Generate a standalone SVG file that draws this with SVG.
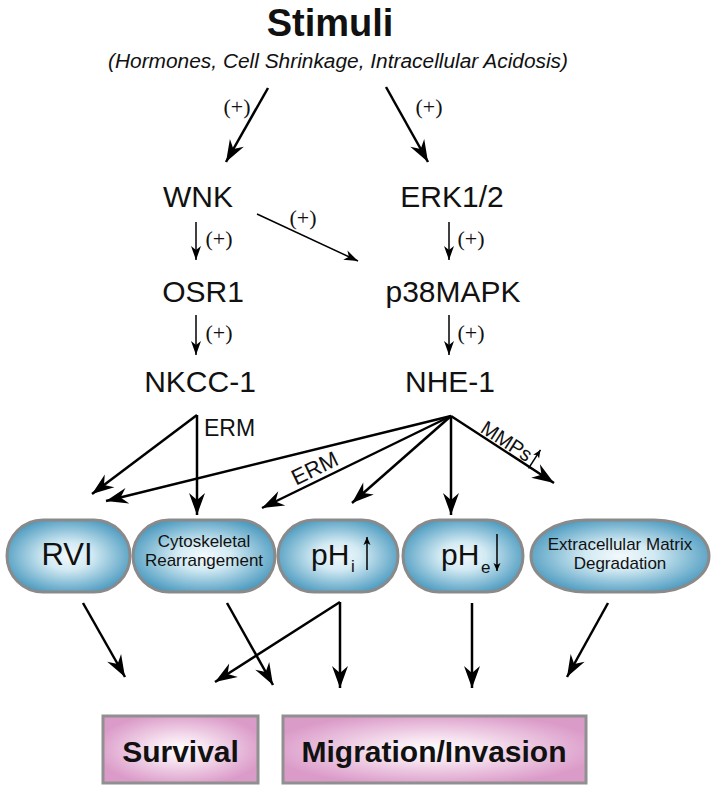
<svg xmlns="http://www.w3.org/2000/svg" width="714" height="792" viewBox="0 0 714 792">
<defs>
<radialGradient id="gBlue" cx="50%" cy="50%" r="55%">
<stop offset="0" stop-color="#f3f9fc"/>
<stop offset="0.35" stop-color="#d2eaf3"/>
<stop offset="1" stop-color="#4d9bc0"/>
</radialGradient>
<radialGradient id="gPink" cx="50%" cy="50%" r="55%">
<stop offset="0" stop-color="#ffffff"/>
<stop offset="0.3" stop-color="#f7e5f1"/>
<stop offset="1" stop-color="#db9bc9"/>
</radialGradient>
<marker id="ah" viewBox="-24 -10 26 20" refX="0" refY="0" markerWidth="26" markerHeight="20" markerUnits="userSpaceOnUse" orient="auto">
<path d="M0,0 L-22,-8 L-15,0 L-22,8 Z" fill="#000"/>
</marker>
<marker id="as" viewBox="-16 -8 18 16" refX="0" refY="0" markerWidth="18" markerHeight="16" markerUnits="userSpaceOnUse" orient="auto">
<path d="M0,0 L-14,-5 L-10,0 L-14,5 Z" fill="#000"/>
</marker>
<marker id="at" viewBox="-9 -5 10 10" refX="0" refY="0" markerWidth="10" markerHeight="10" markerUnits="userSpaceOnUse" orient="auto">
<path d="M0,0 L-8,-3.5 L-6,0 L-8,3.5 Z" fill="#000"/>
</marker>
</defs>
<style>
.t{font-family:"Liberation Sans",Arial,sans-serif;fill:#111}
.c{text-anchor:middle}
.plus{font-family:"Liberation Serif","Times New Roman",serif;font-size:22px;fill:#111;text-anchor:middle}
.lab{font-size:30px}
.ln{stroke:#000;fill:none;stroke-width:2.5}
.lnt{stroke:#000;fill:none;stroke-width:1.5}
.pill{fill:url(#gBlue);stroke:#8a8a8a;stroke-width:3}
.box{fill:url(#gPink);stroke:#909090;stroke-width:3}
</style>
<rect width="714" height="792" fill="#fff"/>

<g id="stimuli">
<text class="t c" x="330" y="36" font-size="38" font-weight="bold">Stimuli</text>
<text class="t" x="108" y="68" font-size="20" font-style="italic" textLength="460" lengthAdjust="spacingAndGlyphs">(Hormones, Cell Shrinkage, Intracellular Acidosis)</text>
</g>
<g id="wnk"><text class="t c lab" x="198" y="207">WNK</text></g>
<g id="erk"><text class="t c lab" x="452" y="207">ERK1/2</text></g>
<g id="osr1"><text class="t c lab" x="203" y="302">OSR1</text></g>
<g id="p38"><text class="t c lab" x="453" y="302">p38MAPK</text></g>
<g id="nkcc1"><text class="t c lab" x="200" y="392">NKCC-1</text></g>
<g id="nhe1"><text class="t c lab" x="450" y="392">NHE-1</text></g>

<g id="rvi">
<rect class="pill" x="7" y="520" width="123" height="72" rx="36" ry="36"/>
<text class="t c" x="67" y="565" font-size="31">RVI</text>
</g>
<g id="cyto">
<rect class="pill" x="133" y="520" width="142" height="72" rx="36" ry="36"/>
<text class="t c" x="204" y="547" font-size="17">Cytoskeletal</text>
<text class="t c" x="204" y="566" font-size="17">Rearrangement</text>
</g>
<g id="phi">
<rect class="pill" x="278" y="520" width="120" height="72" rx="36" ry="36"/>
<text class="t" x="311" y="565" font-size="30">pH</text>
<text class="t" x="351" y="572" font-size="17">i</text>
<line class="lnt" x1="367" y1="570" x2="367" y2="537" marker-end="url(#at)"/>
</g>
<g id="phe">
<rect class="pill" x="403" y="520" width="120" height="72" rx="36" ry="36"/>
<text class="t" x="441" y="565" font-size="30">pH</text>
<text class="t" x="481" y="573" font-size="17">e</text>
<line class="lnt" x1="497" y1="534" x2="497" y2="571" marker-end="url(#at)"/>
</g>
<g id="ecm">
<rect class="pill" x="531" y="520" width="178" height="72" rx="55" ry="36"/>
<text class="t c" x="620" y="550" font-size="17">Extracellular Matrix</text>
<text class="t c" x="620" y="569" font-size="17">Degradation</text>
</g>

<g id="survival">
<rect class="box" x="103" y="716" width="155" height="67"/>
<text class="t c" x="180.5" y="762" font-size="30" font-weight="bold">Survival</text>
</g>
<g id="migration">
<rect class="box" x="283" y="716" width="303" height="67"/>
<text class="t c" x="434" y="762" font-size="30" font-weight="bold">Migration/Invasion</text>
</g>

<g id="connectors">
<line class="ln" x1="268" y1="88" x2="226" y2="162" marker-end="url(#ah)"/>
<line class="ln" x1="386" y1="87" x2="428" y2="162" marker-end="url(#ah)"/>
<text class="plus" x="237" y="114">(+)</text>
<text class="plus" x="429" y="114">(+)</text>

<line class="lnt" x1="196" y1="222" x2="196" y2="260" marker-end="url(#as)"/>
<line class="lnt" x1="449" y1="222" x2="449" y2="260" marker-end="url(#as)"/>
<line class="lnt" x1="257" y1="214" x2="358" y2="261" marker-end="url(#as)"/>
<text class="plus" x="219" y="246">(+)</text>
<text class="plus" x="471" y="246">(+)</text>
<text class="plus" x="303" y="225">(+)</text>
<line class="lnt" x1="196" y1="315" x2="196" y2="355" marker-end="url(#as)"/>
<line class="lnt" x1="449" y1="315" x2="449" y2="355" marker-end="url(#as)"/>
<text class="plus" x="219" y="340">(+)</text>
<text class="plus" x="471" y="340">(+)</text>

<line class="ln" x1="197" y1="415" x2="92" y2="494" marker-end="url(#ah)"/>
<line class="ln" x1="197" y1="415" x2="197" y2="515" marker-end="url(#ah)"/>
<text class="t" x="204" y="436" font-size="23">ERM</text>

<line class="ln" x1="451" y1="416" x2="106" y2="501" marker-end="url(#ah)"/>
<line class="ln" x1="451" y1="416" x2="262" y2="508" marker-end="url(#ah)"/>
<line class="ln" x1="451" y1="416" x2="352" y2="503" marker-end="url(#ah)"/>
<line class="ln" x1="451" y1="416" x2="451" y2="515" marker-end="url(#ah)"/>
<line class="ln" x1="451" y1="416" x2="554" y2="483" marker-end="url(#ah)"/>
<text class="t c" x="0" y="0" font-size="22" transform="translate(318,475) rotate(-26)">ERM</text>
<g transform="translate(503,447) rotate(33)">
<text class="t c" x="0" y="0" font-size="20">MMPs</text>
<line class="lnt" x1="33" y1="4" x2="33" y2="-18" marker-end="url(#at)"/>
</g>

<line class="ln" x1="83" y1="603" x2="125" y2="677" marker-end="url(#ah)"/>
<line class="ln" x1="227" y1="603" x2="273" y2="685" marker-end="url(#ah)"/>
<line class="ln" x1="340" y1="602" x2="215" y2="682" marker-end="url(#ah)"/>
<line class="ln" x1="340" y1="602" x2="340" y2="688" marker-end="url(#ah)"/>
<line class="ln" x1="472" y1="603" x2="472" y2="688" marker-end="url(#ah)"/>
<line class="ln" x1="608" y1="603" x2="567" y2="677" marker-end="url(#ah)"/>
</g>
</svg>
